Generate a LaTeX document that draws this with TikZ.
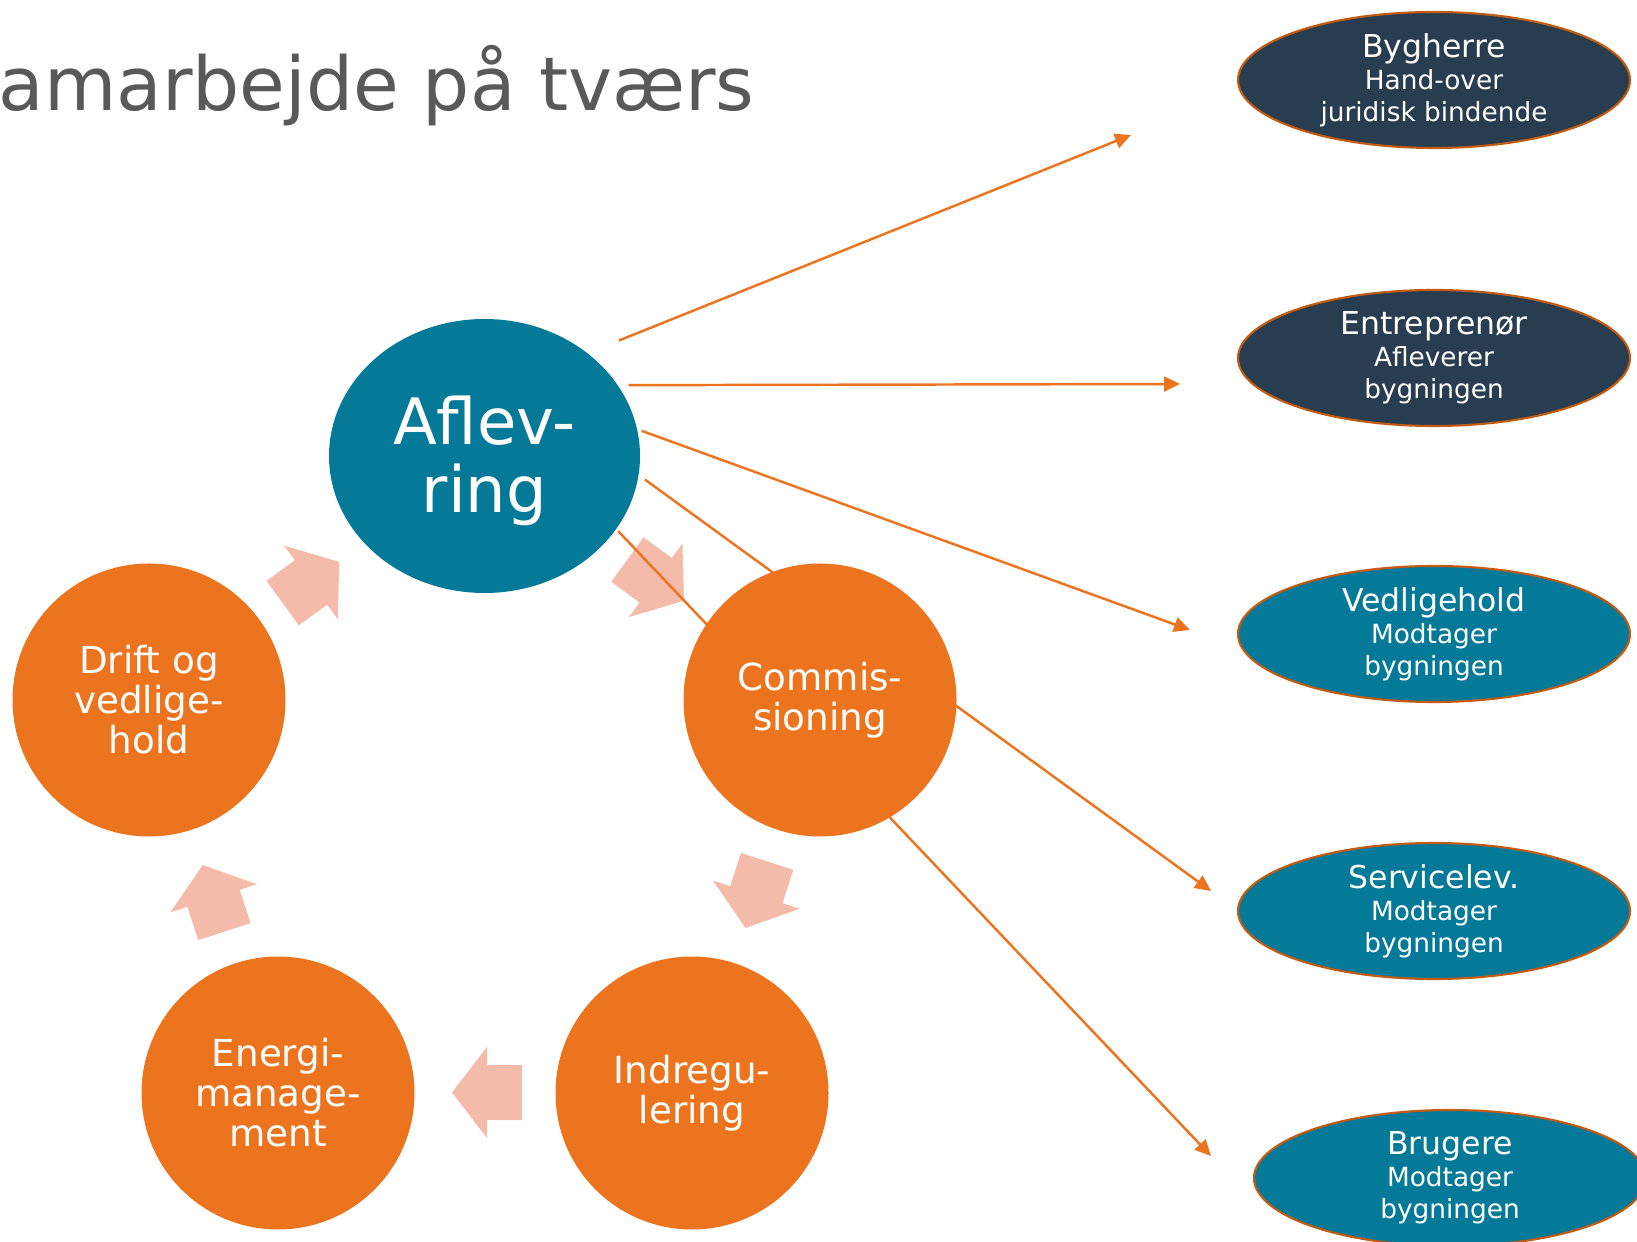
\documentclass[tikz,border=0pt]{standalone}
\usepackage{fontspec}
\setmainfont{DejaVu Sans}
\usepackage{tikz}
\usetikzlibrary{shapes.geometric}
\usetikzlibrary{arrows.meta}
\usepackage{xcolor}

\definecolor{hubteal}{RGB}{5,122,152}
\definecolor{phaseorange}{RGB}{237,116,30}
\definecolor{navy}{RGB}{40,61,80}
\definecolor{rimbrown}{RGB}{197,90,17}
\definecolor{salmon}{RGB}{244,187,170}
\definecolor{titlegray}{RGB}{89,89,89}

\begin{document}
\begin{tikzpicture}[
  phase/.style={circle, fill=phaseorange, text=white, minimum size=2.73cm, inner sep=0pt, outer sep=0pt, align=center, font=\fontsize{10.6}{11.4}\selectfont},
  party/.style={ellipse, draw=rimbrown, line width=0.6pt, text=white, minimum width=3.92cm, minimum height=1.36cm, inner sep=0pt, align=center, font=\fontsize{7.5}{9.1}\selectfont},
  link/.style={phaseorange, line width=0.7pt, -{Triangle[length=0.16cm, width=0.15cm]}},
  bigarrow/.style={fill=salmon}
]

\useasboundingbox (0,0) rectangle (16.37,12.41);
\clip (0,0) rectangle (16.37,12.41);

\node[anchor=base west, inner sep=0pt, text=titlegray, font=\fontsize{21.15}{25}\selectfont] (title) at (-0.02,11.30) {amarbejde på tværs};

% parterne til hoejre
\node[party, fill=navy] (bygherre) at (14.34,11.61) {{\fontsize{8.96}{9.1}\selectfont Bygherre}\\Hand-over\\juridisk bindende};
\node[party, fill=navy] (entreprenor) at (14.34,8.83) {{\fontsize{8.96}{9.1}\selectfont Entreprenør}\\Afleverer\\bygningen};
\node[party, fill=hubteal] (vedligehold) at (14.34,6.07) {{\fontsize{8.96}{9.1}\selectfont Vedligehold}\\Modtager\\bygningen};
\node[party, fill=hubteal] (servicelev) at (14.34,3.30) {{\fontsize{8.96}{9.1}\selectfont Servicelev.}\\Modtager\\bygningen};
\node[party, fill=hubteal] (brugere) at (14.50,0.63) {{\fontsize{8.96}{9.1}\selectfont Brugere}\\Modtager\\bygningen};

\node[ellipse, fill=hubteal, text=white, minimum width=3.11cm, minimum height=2.74cm, inner sep=0pt, outer sep=0pt, align=center, font=\fontsize{18.2}{19.3}\selectfont] (aflev) at (4.845,7.85) {\rule{0pt}{0.58cm}Aflev-\\ring};

% pile i kredsloebet
\fill[bigarrow, shift={(6.557,6.608)}, rotate=-36] (-0.35,-0.275) -- (0,-0.275) -- (0,-0.455) -- (0.35,0) -- (0,0.455) -- (0,0.275) -- (-0.35,0.275) -- cycle;
\fill[bigarrow, shift={(7.563,3.463)}, rotate=-108] (-0.35,-0.275) -- (0,-0.275) -- (0,-0.455) -- (0.35,0) -- (0,0.455) -- (0,0.275) -- (-0.35,0.275) -- cycle;
\fill[bigarrow, shift={(4.87,1.485)}, rotate=180] (-0.35,-0.275) -- (0,-0.275) -- (0,-0.455) -- (0.35,0) -- (0,0.455) -- (0,0.275) -- (-0.35,0.275) -- cycle;
\fill[bigarrow, shift={(2.136,3.427)}, rotate=108] (-0.35,-0.275) -- (0,-0.275) -- (0,-0.455) -- (0.35,0) -- (0,0.455) -- (0,0.275) -- (-0.35,0.275) -- cycle;
\fill[bigarrow, shift={(3.11,6.585)}, rotate=36] (-0.35,-0.275) -- (0,-0.275) -- (0,-0.455) -- (0.35,0) -- (0,0.455) -- (0,0.275) -- (-0.35,0.275) -- cycle;

\coordinate (tobygherre) at (11.31,11.06);
\coordinate (toentreprenor) at (11.80,8.57);
\coordinate (tovedligehold) at (11.90,6.11);
\coordinate (toservicelev) at (12.11,3.50);
\coordinate (tobrugere) at (12.11,0.85);

\draw[link, shorten <=0.34cm] (aflev.45.4) -- (tobygherre);
\draw[link, shorten <=0.11cm] (aflev.28.55) -- (toentreprenor);
\draw[link, shorten <=0.05cm] (aflev.10) -- (tovedligehold);
\draw[link, shorten <=0.08cm] (aflev.-7.45) -- (toservicelev);
\draw[link, shorten <=0.03cm] (aflev.-29) -- (tobrugere);

\node[phase] (commis) at (8.20,5.41) {Commis-\\sioning};
\node[phase] (indreg) at (6.92,1.48) {Indregu-\\lering};
\node[phase] (energi) at (2.78,1.48) {Energi-\\manage-\\ment};
\node[phase] (drift) at (1.49,5.41) {Drift og\\vedlige-\\hold};

\end{tikzpicture}
\end{document}
